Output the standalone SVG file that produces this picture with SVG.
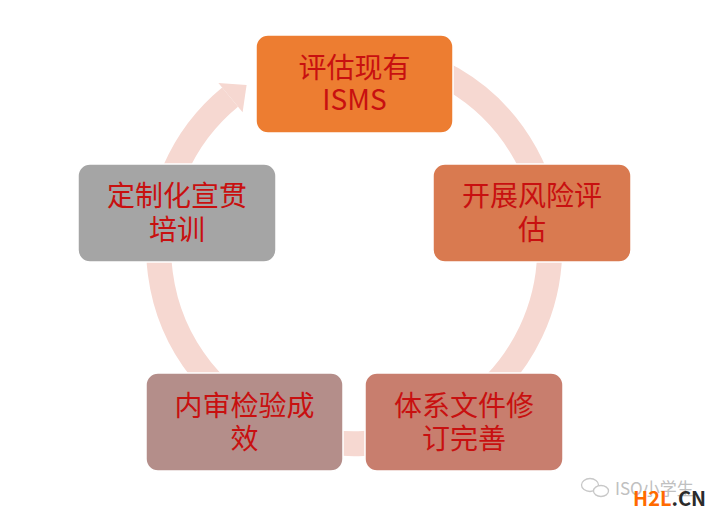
<svg xmlns="http://www.w3.org/2000/svg" width="720" height="521" viewBox="0 0 720 521">
  <style>
    .box { stroke: #ffffff; stroke-width: 1.5; }
    .lbl { font-family: "Noto Sans CJK SC", "Noto Sans", sans-serif; font-size: 28px; fill: #C81010; text-anchor: middle; }
    .ring { fill: none; stroke: #F6D8D1; stroke-width: 25; }
    .wm { font-family: "Noto Sans CJK SC", "Noto Sans", sans-serif; }
  </style>
  <rect width="720" height="521" fill="#ffffff"/>
  <g id="connectors">
    <path class="ring" d="M 262.7 75.4 A 195.5 195.5 0 1 1 230.1 97.1"/>
    <polygon points="218.4,82.9 246.6,85 242.6,112.2" fill="#F6D8D1"/>
  </g>
  <g id="node-top">
    <rect class="box" x="256" y="35" width="197" height="98" rx="12" fill="#ED7D31"/>
    <text class="lbl" x="354.5" y="78">评估现有</text>
    <text class="lbl" x="354.5" y="110">ISMS</text>
  </g>
  <g id="node-right">
    <rect class="box" x="433" y="164" width="198" height="98" rx="12" fill="#D97A50"/>
    <text class="lbl" x="532" y="206">开展风险评</text>
    <text class="lbl" x="532" y="240">估</text>
  </g>
  <g id="node-bottom-right">
    <rect class="box" x="365" y="373" width="198" height="98" rx="12" fill="#C87E6E"/>
    <text class="lbl" x="464" y="416">体系文件修</text>
    <text class="lbl" x="464" y="449">订完善</text>
  </g>
  <g id="node-bottom-left">
    <rect class="box" x="146" y="373" width="197" height="98" rx="12" fill="#B48E8A"/>
    <text class="lbl" x="244.5" y="416">内审检验成</text>
    <text class="lbl" x="244.5" y="449">效</text>
  </g>
  <g id="node-left">
    <rect class="box" x="78" y="164" width="198" height="98" rx="12" fill="#A5A5A5"/>
    <text class="lbl" x="177" y="206">定制化宣贯</text>
    <text class="lbl" x="177" y="240">培训</text>
  </g>
  <g id="watermark">
    <ellipse cx="590" cy="485" rx="8.5" ry="6.5" fill="none" stroke="#c8c8c8" stroke-width="1.3"/>
    <ellipse cx="601" cy="491" rx="7.5" ry="5.5" fill="#ffffff" stroke="#c8c8c8" stroke-width="1.3"/>
    <text class="wm" x="615" y="495" font-size="17" fill="#c0c0c0">ISO小学生</text>
    <text class="wm" x="633" y="506" font-size="20" font-weight="bold" fill="#FF6A00">H2L<tspan fill="#2b2b2b">.CN</tspan></text>
  </g>
</svg>
